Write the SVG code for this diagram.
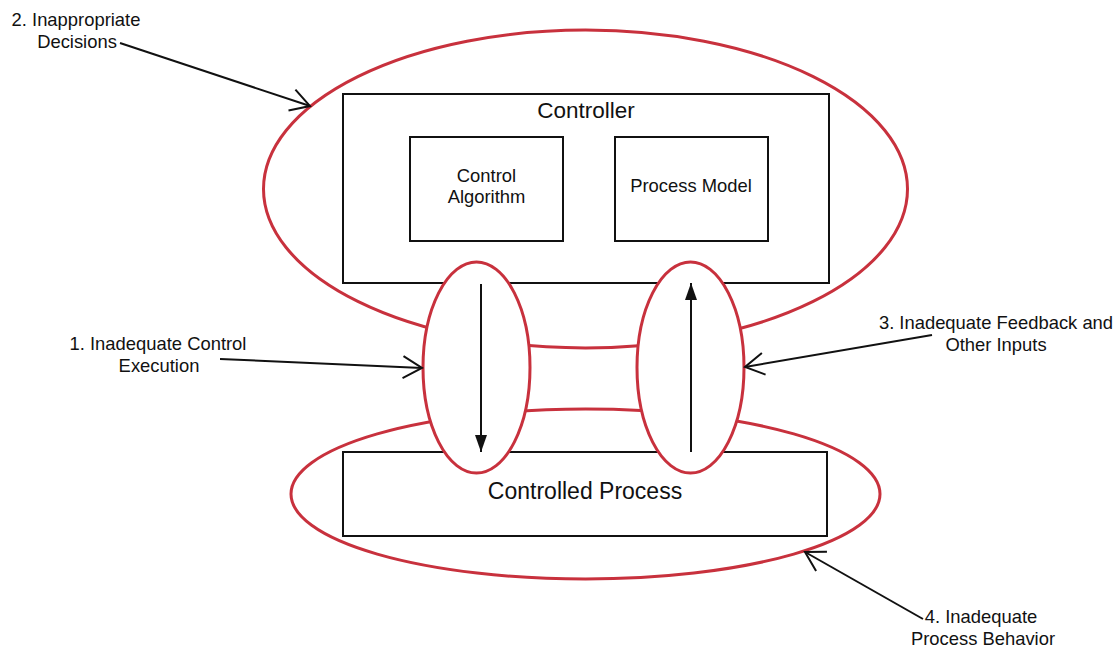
<svg xmlns="http://www.w3.org/2000/svg" width="1120" height="647" viewBox="0 0 1120 647">
<style>
.red{fill:none;stroke:#c8313d;stroke-width:3}
.redw{fill:#fff;stroke:#c8313d;stroke-width:3}
.box{fill:#fff;stroke:#111;stroke-width:2}
.t{font-family:"Liberation Sans",Arial,sans-serif;fill:#111;text-anchor:middle}
.s18{font-size:18.4px}
.s22{font-size:22.5px}
.s23{font-size:23px}
.ln{fill:none;stroke:#111;stroke-width:2}
</style>
<defs>
<marker id="open" markerUnits="userSpaceOnUse" viewBox="-22 -13 24 26" markerWidth="24" markerHeight="26" refX="0" refY="0" orient="auto">
<path d="M-19,-11 L0,0 L-19,11" fill="none" stroke="#111" stroke-width="2"/>
</marker>
<marker id="solid" markerUnits="userSpaceOnUse" viewBox="-18 -7 19 14" markerWidth="19" markerHeight="14" refX="0" refY="0" orient="auto">
<path d="M-17,-6 L0,0 L-17,6 Z" fill="#111"/>
</marker>
</defs>
<g id="bigEllipses">
<ellipse class="red" cx="585.5" cy="189" rx="322" ry="159"/>
<ellipse class="red" cx="585.5" cy="494" rx="294.5" ry="85"/>
</g>
<g id="controller">
<rect class="box" x="343" y="94" width="486" height="189"/>
<text class="t s22" x="586" y="118">Controller</text>
</g>
<g id="controlAlgorithm">
<rect class="box" x="410" y="137" width="153" height="104"/>
<text class="t s18" x="486.5" y="182">Control</text>
<text class="t s18" x="486.5" y="203">Algorithm</text>
</g>
<g id="processModel">
<rect class="box" x="615" y="137" width="153" height="104"/>
<text class="t s18" x="691" y="192">Process Model</text>
</g>
<g id="controlledProcess">
<rect class="box" x="343" y="452" width="484" height="84"/>
<text class="t s23" x="585" y="499">Controlled Process</text>
</g>
<g id="smallEllipses">
<ellipse class="redw" cx="476.5" cy="367.5" rx="53.5" ry="105.5"/>
<ellipse class="redw" cx="690.5" cy="367.5" rx="53.5" ry="105.5"/>
</g>
<g id="connectors">
<line class="ln" x1="481" y1="284" x2="481" y2="452" marker-end="url(#solid)"/>
<line class="ln" x1="691" y1="452" x2="691" y2="283" marker-end="url(#solid)"/>
<line class="ln" x1="120" y1="43" x2="310" y2="106" marker-end="url(#open)"/>
<line class="ln" x1="220" y1="359" x2="422" y2="368" marker-end="url(#open)"/>
<line class="ln" x1="932" y1="335" x2="745" y2="367" marker-end="url(#open)"/>
<line class="ln" x1="923" y1="619" x2="805" y2="552" marker-end="url(#open)"/>
</g>
<g id="label2">
<text class="t s18" x="76" y="26">2. Inappropriate</text>
<text class="t s18" x="77" y="48">Decisions</text>
</g>
<g id="label1">
<text class="t s18" x="158" y="350">1. Inadequate Control</text>
<text class="t s18" x="159" y="372">Execution</text>
</g>
<g id="label3">
<text class="t s18" x="996" y="329">3. Inadequate Feedback and</text>
<text class="t s18" x="996" y="351">Other Inputs</text>
</g>
<g id="label4">
<text class="t s18" x="981" y="623">4. Inadequate</text>
<text class="t s18" x="983" y="645">Process Behavior</text>
</g>
</svg>
